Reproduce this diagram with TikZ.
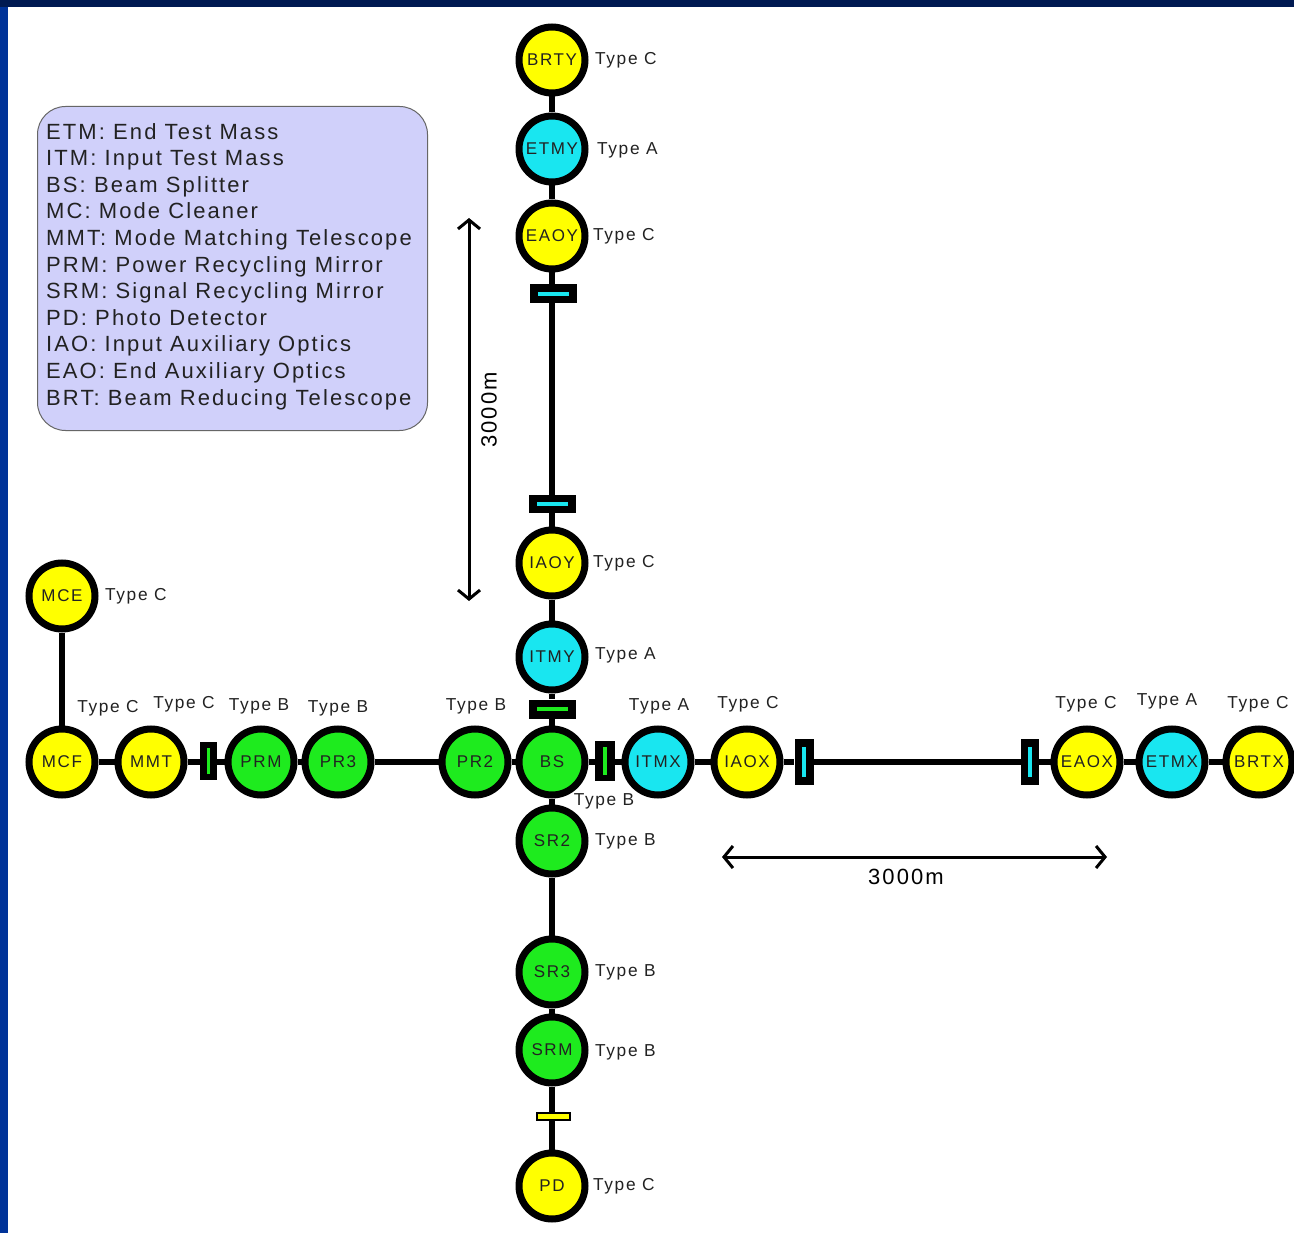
\documentclass[tikz,border=0pt]{standalone}
\usepackage{fontspec}
\setmainfont{Liberation Sans}[LetterSpace=9.5]
\usetikzlibrary{arrows.meta,backgrounds}
\definecolor{mirY}{RGB}{255,255,0}
\definecolor{mirC}{RGB}{25,230,240}
\definecolor{mirG}{RGB}{30,235,30}
\definecolor{navy}{RGB}{0,26,82}
\definecolor{slideblue}{RGB}{0,51,153}
\definecolor{legendfill}{RGB}{208,208,250}
\definecolor{txt}{RGB}{34,34,34}

\begin{document}
\begin{tikzpicture}[x=1pt,y=-1pt,
  mirror/.style={circle,draw=black,line width=7pt,fill=#1,minimum size=66pt,
    inner sep=0pt,font=\fontsize{17}{17}\selectfont,text=txt},
  beam/.style={line width=5.5pt,black},
  typelbl/.style={font=\fontsize{17.3}{17}\selectfont,text=txt,inner sep=0pt},
  slab/.style n args={5}{fill=black,inner sep=0pt,minimum width=#1pt,minimum height=#2pt,
    path picture={\fill[#5] ([xshift={-0.5*#3pt},yshift={-0.5*#4pt}]path picture bounding box.center)
      rectangle ++(#3pt,#4pt);}},
  pdslab/.style={draw=black,line width=2pt,fill=mirY,minimum width=33pt,minimum height=7pt,inner sep=0pt},
  span/.style={line width=3pt,black,{Straight Barb[length=9pt,width=22pt]}-{Straight Barb[length=9pt,width=22pt]}},
  spanlbl/.style={font=\fontsize{22}{22}\selectfont,text=black,inner sep=0pt}]

\useasboundingbox (0,0) rectangle (1294,1233);

% slide frame
\begin{scope}[on background layer]
  \fill[white] (0,0) rectangle (1294,1233);
  \fill[navy] (0,0) rectangle (1294,7);
  \fill[slideblue] (0,7) rectangle (8,1233);
\end{scope}

% glossary
\node[draw=black!60,line width=1pt,rounded corners=28pt,fill=legendfill,
      minimum width=390pt,minimum height=324pt,anchor=north west,inner sep=0pt] (legend) at (37,106) {};
\node[anchor=north west,inner sep=0pt,align=left,text=txt,font=\fontsize{22}{26.6}\selectfont]
  (legendtext) at (46,123) {ETM: End Test Mass\\ITM: Input Test Mass\\BS: Beam Splitter\\MC: Mode Cleaner\\
  MMT: Mode Matching Telescope\\PRM: Power Recycling Mirror\\SRM: Signal Recycling Mirror\\
  PD: Photo Detector\\IAO: Input Auxiliary Optics\\EAO: End Auxiliary Optics\\BRT: Beam Reducing Telescope};

% Y arm and signal port
\node[mirror=mirY] (BRTY) at (552,60) {BRTY};
\node[mirror=mirC] (ETMY) at (552,149) {ETMY};
\node[mirror=mirY] (EAOY) at (552,236) {EAOY};
\node[slab={47}{19}{31}{3.5}{mirC}] (sY1) at (553,294) {};
\node[slab={47}{18}{31}{3.5}{mirC}] (sY2) at (552,504) {};
\node[mirror=mirY] (IAOY) at (552,563) {IAOY};
\node[mirror=mirC] (ITMY) at (552,657) {ITMY};
\node[slab={47}{19}{31}{3.5}{mirG}] (sBS) at (552,709) {};
\node[mirror=mirG] (BS) at (552,762) {BS};
\node[mirror=mirG] (SR2) at (552,841) {SR2};
\node[mirror=mirG] (SR3) at (552,972) {SR3};
\node[mirror=mirG] (SRM) at (552,1050) {SRM};
\node[pdslab] (sPD) at (553,1116) {};
\node[mirror=mirY] (PD) at (552,1186) {PD};

% input path and X arm
\node[mirror=mirY] (MCE) at (62,596) {MCE};
\node[mirror=mirY] (MCF) at (62,762) {MCF};
\node[mirror=mirY] (MMT) at (151,762) {MMT};
\node[slab={17}{38}{3}{26}{mirG}] (sPRM) at (208,761) {};
\node[mirror=mirG] (PRM) at (261,762) {PRM};
\node[mirror=mirG] (PR3) at (338,762) {PR3};
\node[mirror=mirG] (PR2) at (475,762) {PR2};
\node[slab={20}{40}{3.5}{28}{mirG}] (sX) at (605,761) {};
\node[mirror=mirC] (ITMX) at (658,762) {ITMX};
\node[mirror=mirY] (IAOX) at (747,762) {IAOX};
\node[slab={19}{46}{3.5}{30}{mirC}] (sX1) at (804,762) {};
\node[slab={18}{46}{3.5}{30}{mirC}] (sX2) at (1030,762) {};
\node[mirror=mirY] (EAOX) at (1087,762) {EAOX};
\node[mirror=mirC] (ETMX) at (1172,762) {ETMX};
\node[mirror=mirY] (BRTX) at (1259,762) {BRTX};

% beam lines (kept straight through the slightly offset baffles)
\begin{scope}[on background layer]
  \draw[beam] (BRTY) -- (ETMY) -- (EAOY) -- (EAOY |- sY1) -- (sY2) -- (IAOY) -- (ITMY) -- (sBS) -- (BS)
    -- (SR2) -- (SR3) -- (SRM) -- (SRM |- sPD) -- (PD);
  \draw[beam] (MCE) -- (MCF);
  \draw[beam] (MCF) -- (MMT) -- (MMT -| sPRM) -- (PRM) -- (PR3) -- (PR2) -- (BS) -- (BS -| sX) -- (ITMX)
    -- (IAOX) -- (sX1) -- (sX2) -- (EAOX) -- (ETMX) -- (BRTX);
\end{scope}

% suspension types
\node[typelbl,anchor=west] (tBRTY) at (595,60) {Type C};
\node[typelbl,anchor=west] (tETMY) at (597,150) {Type A};
\node[typelbl,anchor=west] (tEAOY) at (593,236) {Type C};
\node[typelbl,anchor=west] (tIAOY) at (593,563) {Type C};
\node[typelbl,anchor=west] (tITMY) at (595,655) {Type A};
\node[typelbl,anchor=west] (tSR2) at (595,841) {Type B};
\node[typelbl,anchor=west] (tSR3) at (595,972) {Type B};
\node[typelbl,anchor=west] (tSRM) at (595,1052) {Type B};
\node[typelbl,anchor=west] (tPD) at (593,1186) {Type C};
\node[typelbl,anchor=west] (tMCE) at (105,596) {Type C};
\node[typelbl] (tMCF) at (108,708) {Type C};
\node[typelbl] (tMMT) at (184,704) {Type C};
\node[typelbl] (tPRM) at (259,706) {Type B};
\node[typelbl] (tPR3) at (338,708) {Type B};
\node[typelbl] (tPR2) at (476,706) {Type B};
\node[typelbl] (tBS) at (604,801) {Type B};
\node[typelbl] (tITMX) at (659,706) {Type A};
\node[typelbl] (tIAOX) at (748,704) {Type C};
\node[typelbl] (tEAOX) at (1086,704) {Type C};
\node[typelbl] (tETMX) at (1167,701) {Type A};
\node[typelbl] (tBRTX) at (1258,704) {Type C};

% arm lengths
\coordinate (yTop) at (469,218);
\coordinate (yBot) at (469,601);
\draw[span] (yTop) -- (yBot);
\node[spanlbl,rotate=90] (yLen) at (489,410) {3000m};
\coordinate (xLeft) at (722,857);
\coordinate (xRight) at (1107,857);
\draw[span] (xLeft) -- (xRight);
\node[spanlbl] (xLen) at (906,877) {3000m};
\end{tikzpicture}
\end{document}
